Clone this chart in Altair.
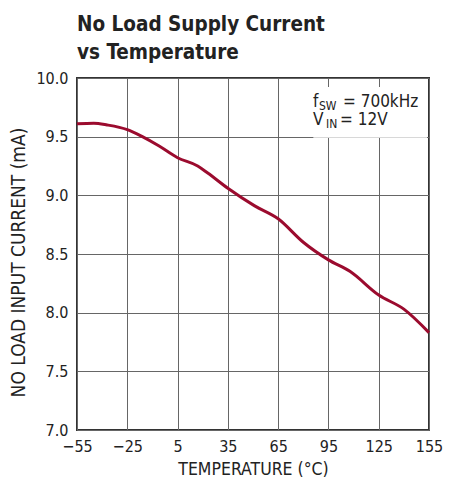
import altair as alt
import pandas as pd

temp = [-55, -45, -37, -25, -16, -6, 5, 17, 23, 35, 51, 65, 80, 95, 108, 125, 140, 155]
current = [9.61, 9.615, 9.60, 9.56, 9.50, 9.42, 9.32, 9.25, 9.19, 9.06, 8.91, 8.80, 8.60, 8.45, 8.35, 8.15, 8.03, 7.83]
x_ticks = [-55, -25, 5, 35, 65, 95, 125, 155]
y_ticks = [7.0, 7.5, 8.0, 8.5, 9.0, 9.5, 10.0]

FONT = "DejaVu Sans Condensed, Roboto, sans-serif"
df = pd.DataFrame({"t": temp, "i": current})

xs = alt.Scale(domain=[-55, 155], nice=False, zero=False)
ys = alt.Scale(domain=[7, 10], nice=False, zero=False)

line = alt.Chart(df).mark_line(color="#9b0b2e", strokeWidth=3, interpolate="monotone").encode(
    x=alt.X("t:Q", scale=xs,
            axis=alt.Axis(values=x_ticks, title="TEMPERATURE (°C)", grid=True, labelOverlap=False,
                          labelFlush=False, titleFontSize=17.5,
                          labelExpr="replace(datum.label, '-', '–')")),
    y=alt.Y("i:Q", scale=ys,
            axis=alt.Axis(values=y_ticks, format=".1f", title="NO LOAD INPUT CURRENT (mA)",
                          grid=True, labelOverlap=False, labelFlush=False, titleFontSize=19,
                          titleY=184)),
)

box = alt.Chart(pd.DataFrame({"a": [0]})).mark_rect(color="white").encode(
    x=alt.datum(86, scale=xs), x2=alt.datum(153.8),
    y=alt.datum(9.923, scale=ys), y2=alt.datum(9.49),
)

def txt(s, x, y, size):
    return alt.Chart(pd.DataFrame({"a": [0]})).mark_text(
        text=s, align="left", baseline="alphabetic", font=FONT, fontSize=size, color="#222"
    ).encode(x=alt.value(x), y=alt.value(y))

ann = [
    txt("f", 236, 29, 17),
    txt("SW", 242, 32, 12),
    txt("= 700kHz", 266, 29, 17),
    txt("V", 236, 47, 17),
    txt("IN", 249, 50, 12),
    txt("= 12V", 263, 47, 17),
]

chart = alt.layer(box, line, *ann).properties(
    width=352, height=352,
    autosize=alt.AutoSizeParams(type="none"),
    padding={"left": 69, "top": 70, "right": 21, "bottom": 47},
    title=alt.TitleParams(["No Load Supply Current", "vs Temperature"], anchor="start",
                          frame="group", font=FONT, fontSize=20.5, fontWeight="bold",
                          color="#222", lineHeight=28, offset=7),
).configure_view(stroke="#333", strokeWidth=2).configure_axis(
    labelFont=FONT, labelFontSize=16, labelColor="#222",
    titleFont=FONT, titleFontWeight="normal", titleColor="#222",
    gridColor="#666", gridWidth=1, gridOpacity=1,
    domain=False, ticks=False,
).configure_axisX(labelPadding=8, titlePadding=6).configure_axisY(labelPadding=9, titlePadding=7)

chart.save("out.html", embed_options={"renderer": "svg", "actions": False})
